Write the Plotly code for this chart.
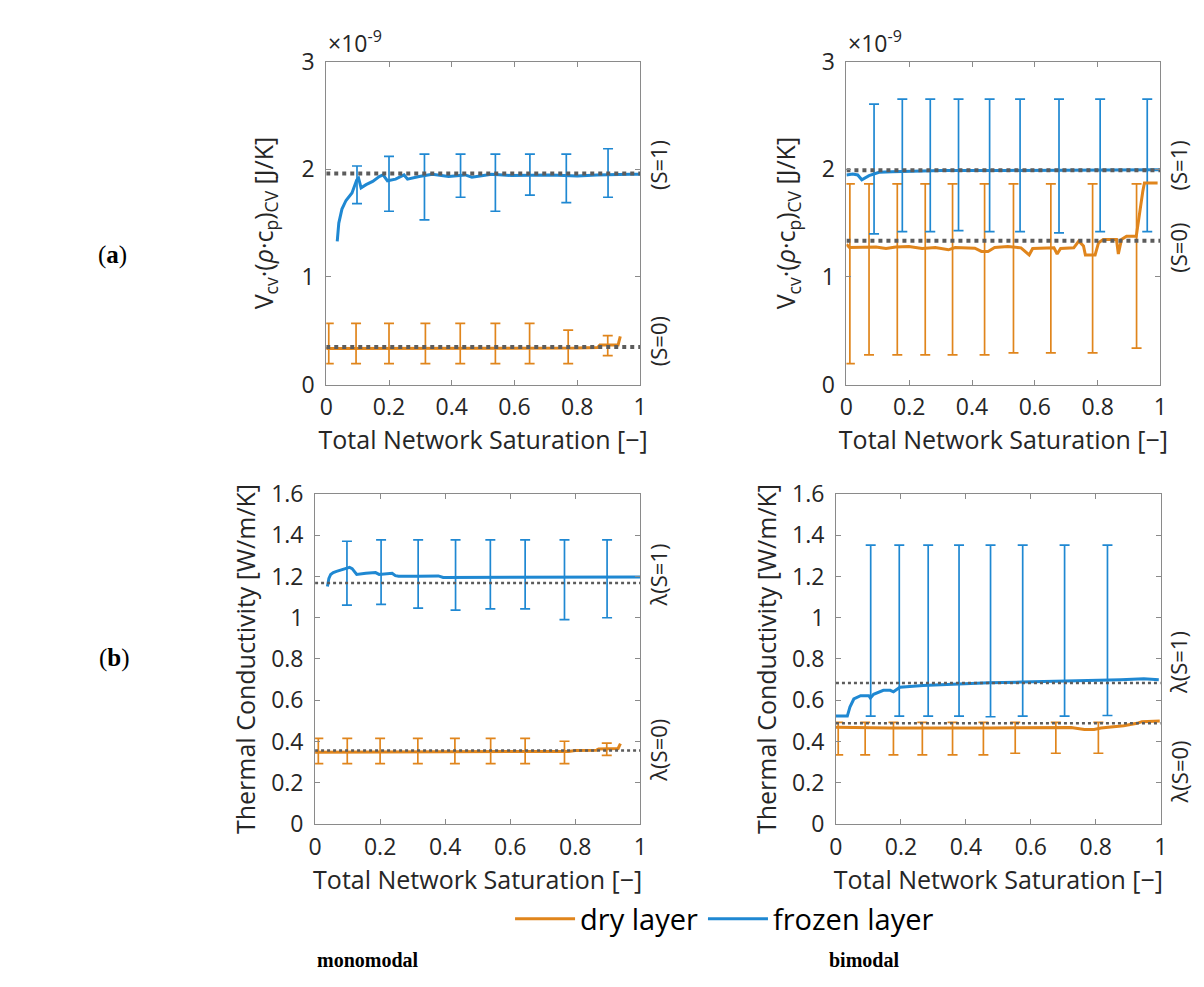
import plotly.graph_objects as go

BLUE = "#1f88d2"
ORANGE = "#e0851c"
REF = "#5c5c5c"
TXT = "#262626"
AXIS = "#8a8a8a"
FONT = "Open Sans"

# ---------- monomodal: volumetric heat capacity (x 1e-9 J/K) ----------
mc_frozen_x = [0.035, 0.040, 0.050, 0.063, 0.082, 0.097, 0.103, 0.111, 0.127, 0.148, 0.169,
               0.181, 0.195, 0.221, 0.248, 0.259, 0.296, 0.338, 0.390, 0.443, 0.464, 0.527,
               0.590, 0.653, 0.716, 0.800, 0.863, 0.968, 1.0]
mc_frozen_y = [1.33, 1.50, 1.63, 1.71, 1.78, 1.90, 1.917, 1.827, 1.857, 1.887, 1.932,
               1.947, 1.893, 1.908, 1.947, 1.908, 1.932, 1.953, 1.932, 1.947, 1.926, 1.953,
               1.941, 1.947, 1.947, 1.938, 1.947, 1.953, 1.953]
mc_dry_x = [0.0, 0.2, 0.4, 0.6, 0.8, 0.865, 0.872, 0.93, 0.937]
mc_dry_y = [0.335, 0.335, 0.336, 0.337, 0.34, 0.345, 0.368, 0.368, 0.449]
mc_frozen_bar_x = [0.098, 0.2, 0.313, 0.428, 0.539, 0.649, 0.765, 0.898]
mc_frozen_bar_c = [1.90, 1.89, 1.93, 1.94, 1.95, 1.945, 1.95, 1.95]
mc_frozen_bar_hi = [2.03, 2.12, 2.14, 2.14, 2.14, 2.14, 2.14, 2.19]
mc_frozen_bar_lo = [1.68, 1.61, 1.53, 1.74, 1.61, 1.76, 1.69, 1.74]
mc_dry_bar_x = [0.008, 0.095, 0.2, 0.316, 0.427, 0.539, 0.648, 0.771, 0.897]
mc_dry_bar_c = [0.335, 0.335, 0.335, 0.335, 0.336, 0.336, 0.337, 0.34, 0.368]
mc_dry_bar_hi = [0.57, 0.57, 0.57, 0.57, 0.57, 0.57, 0.57, 0.506, 0.455]
mc_dry_bar_lo = [0.195, 0.195, 0.195, 0.195, 0.195, 0.195, 0.195, 0.195, 0.27]
mc_ref = [1.96, 0.35]

# ---------- bimodal: volumetric heat capacity (x 1e-9 J/K) ----------
bc_frozen_x = [0.0, 0.02, 0.036, 0.049, 0.072, 0.104, 0.146, 0.198, 0.303, 0.513, 0.995]
bc_frozen_y = [1.947, 1.956, 1.947, 1.902, 1.941, 1.971, 1.977, 1.983, 1.989, 1.989, 1.995]
bc_dry_x = [0.0, 0.01, 0.094, 0.126, 0.157, 0.199, 0.241, 0.283, 0.325, 0.346, 0.409, 0.430,
            0.451, 0.472, 0.514, 0.556, 0.582, 0.593, 0.661, 0.671, 0.682, 0.724, 0.740,
            0.755, 0.761, 0.792, 0.803, 0.818, 0.860, 0.866, 0.876, 0.892, 0.923, 0.929,
            0.939, 0.944, 0.949, 0.991]
bc_dry_y = [1.303, 1.273, 1.279, 1.264, 1.279, 1.282, 1.264, 1.273, 1.252, 1.273, 1.267, 1.237,
            1.237, 1.273, 1.282, 1.270, 1.204, 1.264, 1.270, 1.213, 1.264, 1.270, 1.333,
            1.288, 1.204, 1.204, 1.318, 1.348, 1.348, 1.213, 1.348, 1.378, 1.378, 1.497,
            1.737, 1.797, 1.872, 1.872]
bc_frozen_bar_x = [0.088, 0.178, 0.267, 0.357, 0.456, 0.553, 0.677, 0.808, 0.958]
bc_frozen_bar_c = [1.96, 1.98, 1.985, 1.99, 1.99, 1.99, 1.99, 1.99, 1.995]
bc_frozen_bar_hi = [2.605, 2.65, 2.65, 2.65, 2.65, 2.65, 2.65, 2.65, 2.65]
bc_frozen_bar_lo = [1.40, 1.42, 1.42, 1.43, 1.42, 1.42, 1.41, 1.42, 1.42]
bc_dry_bar_x = [0.011, 0.072, 0.162, 0.251, 0.338, 0.44, 0.532, 0.651, 0.784, 0.924]
bc_dry_bar_c = [1.27, 1.28, 1.275, 1.265, 1.255, 1.237, 1.28, 1.265, 1.204, 1.378]
bc_dry_bar_hi = [1.865] * 10
bc_dry_bar_lo = [0.195, 0.276, 0.276, 0.276, 0.276, 0.276, 0.296, 0.296, 0.296, 0.339]
bc_ref = [1.99, 1.335]

# ---------- monomodal: thermal conductivity (W/m/K) ----------
ml_frozen_x = [0.038, 0.0425, 0.048, 0.056, 0.066, 0.086, 0.106, 0.114, 0.128, 0.156, 0.186,
               0.197, 0.237, 0.247, 0.257, 0.318, 0.379, 0.394, 0.460, 0.561, 0.662, 0.763,
               0.865, 1.0]
ml_frozen_y = [1.152, 1.191, 1.21, 1.219, 1.225, 1.235, 1.244, 1.238, 1.21, 1.216, 1.219,
               1.21, 1.216, 1.204, 1.201, 1.201, 1.203, 1.195, 1.195, 1.196, 1.198, 1.198,
               1.198, 1.198]
ml_dry_x = [0.0, 0.5, 0.78, 0.80, 0.866, 0.872, 0.932, 0.939]
ml_dry_y = [0.348, 0.349, 0.352, 0.356, 0.358, 0.364, 0.366, 0.39]
ml_frozen_bar_x = [0.098, 0.203, 0.317, 0.432, 0.539, 0.646, 0.767, 0.898]
ml_frozen_bar_c = [1.244, 1.21, 1.201, 1.195, 1.196, 1.198, 1.198, 1.198]
ml_frozen_bar_hi = [1.371, 1.378, 1.378, 1.378, 1.378, 1.378, 1.378, 1.378]
ml_frozen_bar_lo = [1.061, 1.065, 1.047, 1.037, 1.043, 1.043, 0.991, 1.0]
ml_dry_bar_x = [0.01, 0.099, 0.2, 0.316, 0.43, 0.54, 0.646, 0.767, 0.897]
ml_dry_bar_c = [0.348, 0.348, 0.348, 0.348, 0.348, 0.349, 0.349, 0.352, 0.364]
ml_dry_bar_hi = [0.415, 0.415, 0.415, 0.415, 0.415, 0.415, 0.415, 0.401, 0.392]
ml_dry_bar_lo = [0.293, 0.293, 0.293, 0.293, 0.293, 0.293, 0.293, 0.293, 0.333]
ml_ref = [1.169, 0.356]

# ---------- bimodal: thermal conductivity (W/m/K) ----------
bl_frozen_x = [0.0, 0.035, 0.043, 0.055, 0.076, 0.101, 0.106, 0.116, 0.146, 0.167, 0.177,
               0.197, 0.268, 0.369, 0.471, 0.572, 0.674, 0.775, 0.877, 0.948, 0.994]
bl_frozen_y = [0.523, 0.523, 0.567, 0.606, 0.622, 0.622, 0.611, 0.629, 0.648, 0.648, 0.641,
               0.663, 0.671, 0.679, 0.685, 0.688, 0.691, 0.694, 0.699, 0.704, 0.699]
bl_dry_x = [0.0, 0.167, 0.471, 0.724, 0.765, 0.795, 0.816, 0.866, 0.886, 0.927, 0.942, 0.997]
bl_dry_y = [0.469, 0.465, 0.465, 0.468, 0.458, 0.458, 0.465, 0.473, 0.476, 0.488, 0.496, 0.499]
bl_frozen_bar_x = [0.107, 0.195, 0.284, 0.379, 0.476, 0.575, 0.704, 0.836]
bl_frozen_bar_c = [0.62, 0.66, 0.671, 0.679, 0.685, 0.688, 0.692, 0.697]
bl_frozen_bar_hi = [1.352] * 8
bl_frozen_bar_lo = [0.523, 0.523, 0.523, 0.523, 0.52, 0.523, 0.523, 0.526]
bl_dry_bar_x = [0.007, 0.09, 0.177, 0.266, 0.359, 0.454, 0.552, 0.677, 0.808]
bl_dry_bar_c = [0.468, 0.466, 0.465, 0.465, 0.465, 0.465, 0.465, 0.467, 0.458]
bl_dry_bar_hi = [0.493] * 9
bl_dry_bar_lo = [0.335, 0.335, 0.335, 0.335, 0.335, 0.335, 0.343, 0.343, 0.343]
bl_ref = [0.684, 0.488]

x_ticks = [0, 0.2, 0.4, 0.6, 0.8, 1]
x_tick_text = ["0", "0.2", "0.4", "0.6", "0.8", "1"]
cap_ticks = [0, 1, 2, 3]
cap_tick_text = ["0", "1", "2", "3"]
lam_ticks = [0, 0.2, 0.4, 0.6, 0.8, 1.0, 1.2, 1.4, 1.6]
lam_tick_text = ["0", "0.2", "0.4", "0.6", "0.8", "1", "1.2", "1.4", "1.6"]

fig = go.Figure()


def add_panel(ax, frozen, dry, frozen_bars, dry_bars, refs, ref_width, legend):
    xa, ya = ax
    # error bars (tiny markers hidden under the curves)
    for (bx, bc, bh, bl), col in ((dry_bars, ORANGE), (frozen_bars, BLUE)):
        fig.add_trace(go.Scatter(
            x=bx, y=bc, mode="markers", xaxis=xa, yaxis=ya, showlegend=False,
            marker=dict(size=1, color=col), hoverinfo="skip",
            error_y=dict(type="data", symmetric=False,
                         array=[h - c for h, c in zip(bh, bc)],
                         arrayminus=[c - l for c, l in zip(bc, bl)],
                         color=col, thickness=1.7, width=5)))
    fig.add_trace(go.Scatter(x=dry[0], y=dry[1], mode="lines", name="dry layer",
                             line=dict(color=ORANGE, width=3), xaxis=xa, yaxis=ya,
                             showlegend=legend, legendrank=1))
    fig.add_trace(go.Scatter(x=frozen[0], y=frozen[1], mode="lines", name="frozen layer",
                             line=dict(color=BLUE, width=3), xaxis=xa, yaxis=ya,
                             showlegend=legend, legendrank=2))
    for r in refs:
        fig.add_trace(go.Scatter(x=[0, 1], y=[r, r], mode="lines", showlegend=False,
                                 line=dict(color=REF, width=ref_width, dash="dot"),
                                 xaxis=xa, yaxis=ya, hoverinfo="skip"))


add_panel(("x", "y"), (mc_frozen_x, mc_frozen_y), (mc_dry_x, mc_dry_y),
          (mc_frozen_bar_x, mc_frozen_bar_c, mc_frozen_bar_hi, mc_frozen_bar_lo),
          (mc_dry_bar_x, mc_dry_bar_c, mc_dry_bar_hi, mc_dry_bar_lo), mc_ref, 4, True)
add_panel(("x2", "y2"), (bc_frozen_x, bc_frozen_y), (bc_dry_x, bc_dry_y),
          (bc_frozen_bar_x, bc_frozen_bar_c, bc_frozen_bar_hi, bc_frozen_bar_lo),
          (bc_dry_bar_x, bc_dry_bar_c, bc_dry_bar_hi, bc_dry_bar_lo), bc_ref, 4, False)
add_panel(("x3", "y3"), (ml_frozen_x, ml_frozen_y), (ml_dry_x, ml_dry_y),
          (ml_frozen_bar_x, ml_frozen_bar_c, ml_frozen_bar_hi, ml_frozen_bar_lo),
          (ml_dry_bar_x, ml_dry_bar_c, ml_dry_bar_hi, ml_dry_bar_lo), ml_ref, 2.5, False)
add_panel(("x4", "y4"), (bl_frozen_x, bl_frozen_y), (bl_dry_x, bl_dry_y),
          (bl_frozen_bar_x, bl_frozen_bar_c, bl_frozen_bar_hi, bl_frozen_bar_lo),
          (bl_dry_bar_x, bl_dry_bar_c, bl_dry_bar_hi, bl_dry_bar_lo), bl_ref, 2.5, False)

W, H = 1204, 987
tick_font = dict(family=FONT, size=23, color=TXT)
title_font = dict(family=FONT, size=25, color=TXT)
cap_title = "V<sub>cv</sub>·(<i>ρ</i>·c<sub>p</sub>)<sub>CV</sub> [J/K]"
lam_title = "Thermal Conductivity [W/m/K]"


def xaxis(domain, anchor):
    return dict(domain=domain, anchor=anchor, range=[0, 1], tickvals=x_ticks,
                ticktext=x_tick_text, ticks="inside", ticklen=5, tickcolor=AXIS,
                showline=True, linecolor=AXIS, linewidth=1, mirror="ticks",
                showgrid=False, zeroline=False, tickfont=tick_font,
                ticklabelstandoff=2,
                title=dict(text="Total Network Saturation [−]", font=title_font, standoff=6))


def yaxis(domain, anchor, rng, tv, tt, title, standoff):
    return dict(domain=domain, anchor=anchor, range=rng, tickvals=tv, ticktext=tt,
                ticks="inside", ticklen=5, tickcolor=AXIS, showline=True, linecolor=AXIS,
                linewidth=1, mirror="ticks", showgrid=False, zeroline=False,
                tickfont=tick_font, ticklabelstandoff=6,
                title=dict(text=title, font=title_font, standoff=standoff))


top_dom = [1 - 380 / H, 1 - 46 / H]
bot_dom = [1 - 834 / H, 1 - 493 / H]

fig.update_layout(
    width=W, height=H, margin=dict(l=0, r=0, t=0, b=0),
    paper_bgcolor="white", plot_bgcolor="white",
    font=dict(family=FONT, color=TXT),
    xaxis=xaxis([323 / W, 640.5 / W], "y"),
    xaxis2=xaxis([849.3 / W, 1167 / W], "y2"),
    xaxis3=xaxis([311.7 / W, 640.7 / W], "y3"),
    xaxis4=xaxis([838.7 / W, 1167.3 / W], "y4"),
    yaxis=yaxis(top_dom, "x", [0, 3], cap_ticks, cap_tick_text, cap_title, 20),
    yaxis2=yaxis(top_dom, "x2", [0, 3], cap_ticks, cap_tick_text, cap_title, 18),
    yaxis3=yaxis(bot_dom, "x3", [0, 1.6], lam_ticks, lam_tick_text, lam_title, 8),
    yaxis4=yaxis(bot_dom, "x4", [0, 1.6], lam_ticks, lam_tick_text, lam_title, 8),
    legend=dict(orientation="h", x=726 / W, xanchor="center", y=1 - 932 / H,
                yanchor="middle", font=dict(family=FONT, size=29, color="black"),
                bgcolor="rgba(0,0,0,0)", traceorder="normal", itemwidth=60),
    showlegend=True,
)

ann = []
# scale factor labels
for xa in ("x", "x2"):
    ann.append(dict(text="×10<sup>-9</sup>", xref=f"{xa} domain", yref="paper", x=0,
                    y=1 - 26 / H, xanchor="left", yanchor="middle", showarrow=False,
                    font=dict(family=FONT, size=23, color=TXT)))
# right-side reference labels (rotated)
side_labels = [
    ("x", "(S=1)", 153), ("x", "(S=0)", 335),
    ("x2", "(S=1)", 153), ("x2", "(S=0)", 238),
    ("x3", "λ(S=1)", 577), ("x3", "λ(S=0)", 758),
    ("x4", "λ(S=1)", 667), ("x4", "λ(S=0)", 780),
]
for xa, txt, ypix in side_labels:
    ann.append(dict(text=txt, xref=f"{xa} domain", yref="paper", x=1, xshift=18,
                    y=1 - ypix / H, xanchor="center", yanchor="middle", textangle=-90,
                    showarrow=False, font=dict(family=FONT, size=22, color=TXT)))
# panel row labels and column captions
serif = "Liberation Serif"
ann.append(dict(text="(<b>a</b>)", xref="paper", yref="paper", x=107 / W, y=1 - 246 / H,
                xanchor="center", yanchor="middle", showarrow=False,
                font=dict(family=serif, size=25, color="black")))
ann.append(dict(text="(<b>b</b>)", xref="paper", yref="paper", x=109 / W, y=1 - 662 / H,
                xanchor="center", yanchor="middle", showarrow=False,
                font=dict(family=serif, size=25, color="black")))
ann.append(dict(text="<b>monomodal</b>", xref="paper", yref="paper", x=365 / W,
                y=1 - 975 / H, xanchor="center", yanchor="middle", showarrow=False,
                font=dict(family=serif, size=20, color="black")))
ann.append(dict(text="<b>bimodal</b>", xref="paper", yref="paper", x=867 / W,
                y=1 - 975 / H, xanchor="center", yanchor="middle", showarrow=False,
                font=dict(family=serif, size=20, color="black")))
fig.update_layout(annotations=ann)

fig.write_html("out.html")
